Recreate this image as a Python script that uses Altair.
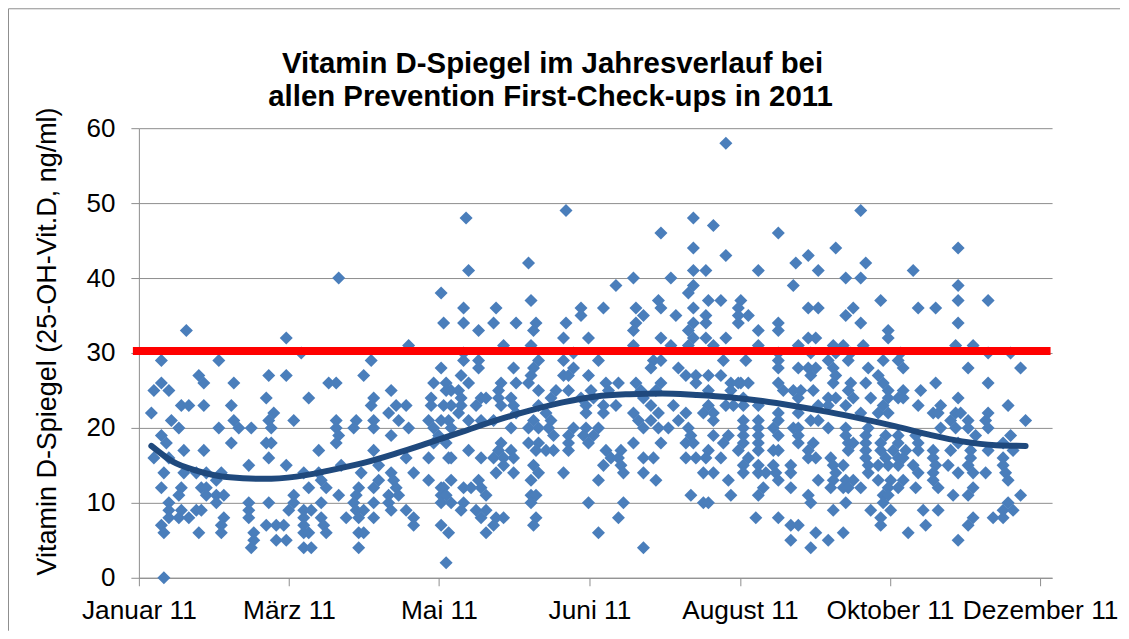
import altair as alt
import pandas as pd

# Vitamin D reading (ng/ml) -> days of the year with a check-up at that reading
d58 = [235]
d49 = [171, 289]
d48 = [131, 222]
d47 = [230]
d46 = [209, 256]
d44 = [222, 279, 328]
d43 = [235, 268]
d42 = [156, 263, 291]
d41 = [132, 222, 227, 248, 272, 310]
d40 = [80, 198, 213, 283, 289]
d39 = [191, 222, 262, 328]
d38 = [121, 220]
d37 = [157, 208, 228, 233, 241, 297, 328, 340]
d36 = [130, 143, 177, 186, 199, 209, 222, 240, 268, 272, 286, 312, 319]
d35 = [177, 202, 215, 227, 240, 244, 283]
d34 = [122, 130, 142, 151, 159, 171, 199, 222, 227, 240, 256, 289, 328]
d33 = [19, 136, 158, 198, 220, 248, 256, 300]
d32 = [59, 170, 180, 209, 222, 227, 235, 268, 271, 300]
d31 = [108, 146, 157, 198, 213, 220, 230, 248, 264, 278, 282, 290, 327, 334]
d30 = [65, 130, 174, 256, 269, 279, 285, 305, 340, 349]
d29 = [9, 32, 93, 130, 136, 160, 170, 184, 206, 209, 234, 243, 256, 276, 284, 298, 304]
d28 = [121, 136, 150, 158, 174, 205, 216, 256, 264, 268, 271, 278, 292, 306, 332, 353]
d27 = [24, 52, 59, 90, 129, 157, 170, 172, 180, 219, 223, 228, 233, 269, 279, 296]
d26 = [9, 26, 38, 76, 79, 118, 123, 132, 145, 151, 156, 187, 192, 199, 209, 223, 237, 240, 241, 244, 256, 278, 285, 291, 298, 319, 340]
d25 = [6, 12, 101, 123, 125, 128, 144, 160, 167, 172, 181, 188, 201, 207, 228, 237, 258, 262, 265, 270, 284, 300, 306, 313]
d24 = [51, 68, 94, 117, 129, 137, 139, 144, 149, 165, 177, 182, 202, 242, 264, 276, 279, 286, 293, 300, 304, 306, 328]
d23 = [17, 20, 26, 37, 93, 103, 107, 117, 122, 125, 129, 135, 145, 150, 160, 179, 186, 191, 205, 214, 228, 235, 238, 242, 248, 272, 276, 283, 298, 312, 321, 348]
d22 = [5, 54, 100, 128, 151, 163, 179, 186, 198, 208, 219, 226, 230, 256, 264, 289, 296, 300, 318, 320, 327, 329, 340]
d21 = [13, 38, 52, 62, 79, 87, 94, 104, 116, 121, 124, 132, 137, 142, 158, 165, 200, 205, 216, 230, 242, 248, 256, 269, 272, 325, 332, 339, 355]
d20 = [16, 32, 40, 45, 53, 79, 86, 94, 108, 118, 125, 149, 156, 160, 164, 174, 179, 184, 202, 208, 212, 220, 242, 248, 254, 262, 264, 276, 283, 292, 321, 327, 332, 340]
d19 = [9, 80, 101, 120, 166, 172, 178, 182, 221, 230, 236, 242, 248, 256, 264, 283, 291, 299, 304, 311, 335, 349]
d18 = [11, 37, 51, 53, 79, 118, 123, 145, 156, 160, 172, 180, 198, 209, 219, 222, 234, 242, 248, 264, 270, 284, 286, 291, 297, 304, 312, 328, 346]
d17 = [18, 26, 72, 94, 132, 144, 149, 159, 163, 166, 172, 187, 193, 228, 240, 248, 254, 256, 268, 284, 291, 297, 302, 307, 312, 318, 325, 333, 340, 350]
d16 = [6, 12, 52, 107, 116, 124, 125, 137, 142, 146, 150, 189, 192, 202, 206, 219, 223, 227, 233, 244, 268, 271, 277, 291, 299, 304, 306, 318, 333, 346]
d15 = [44, 59, 81, 96, 146, 158, 186, 193, 242, 248, 254, 261, 278, 282, 292, 296, 300, 304, 310, 319, 324, 332, 346]
d14 = [10, 18, 23, 27, 33, 66, 72, 89, 101, 110, 143, 150, 160, 170, 194, 202, 226, 230, 242, 248, 251, 255, 261, 279, 292, 312, 318, 328, 334, 339, 347]
d13 = [31, 73, 96, 102, 116, 125, 136, 157, 184, 207, 236, 256, 272, 278, 283, 286, 296, 301, 306, 318, 348]
d12 = [9, 17, 25, 27, 68, 75, 88, 94, 103, 121, 122, 130, 133, 137, 250, 261, 277, 282, 284, 289, 300, 304, 311, 320, 334]
d11 = [16, 27, 31, 34, 62, 80, 87, 100, 104, 121, 123, 139, 157, 159, 221, 237, 248, 268, 298, 300, 326, 332, 353]
d10 = [12, 31, 44, 52, 62, 73, 86, 94, 100, 121, 125, 130, 157, 180, 194, 226, 228, 269, 283, 298, 348]
d9 = [12, 17, 23, 25, 44, 60, 66, 69, 87, 90, 101, 107, 129, 135, 139, 278, 293, 301, 314, 320, 346, 350]
d8 = [12, 16, 20, 34, 44, 66, 73, 83, 88, 94, 110, 137, 143, 146, 159, 192, 247, 256, 297, 334, 342, 346]
d7 = [9, 33, 51, 55, 58, 66, 74, 110, 121, 142, 158, 261, 264, 297, 315, 332]
d6 = [10, 24, 33, 46, 66, 68, 75, 88, 90, 124, 139, 184, 271, 282, 308]
d5 = [46, 55, 59, 261, 276, 328]
d4 = [45, 66, 69, 88, 202, 269]
d2 = [123]
d0 = [10]

trend_days = [5, 13.6, 23, 36.4, 50, 63, 76, 89.6, 103, 116, 129.6, 143, 156.4, 169.6, 183, 196.4, 209.6, 223, 236.4, 249.6, 263, 276.4, 289.6, 303, 316.4, 329.6, 343, 355]
trend_vals = [17.6, 15.5, 14.3, 13.4, 13.2, 13.5, 14.3, 15.3, 16.6, 18.0, 19.5, 21.0, 22.3, 23.4, 24.2, 24.5, 24.6, 24.4, 24.1, 23.6, 22.9, 22.1, 21.2, 20.2, 19.1, 18.2, 17.7, 17.6]

limit_days = [-2.4, 365]
limit_vals = [30.27, 30.27]

tick_days = [0, 60.1, 120.1, 180.4, 240.6, 300.7, 360.8]
tick_labels = ["Januar 11", "März 11", "Mai 11", "Juni 11", "August 11", "Oktober 11", "Dezember 11"]
y_ticks = [0, 10, 20, 30, 40, 50, 60]
title_line_1 = "Vitamin D-Spiegel im Jahresverlauf bei"
title_line_2 = "allen Prevention First-Check-ups in 2011"

levels = {
    58: d58, 49: d49, 48: d48, 47: d47, 46: d46, 44: d44, 43: d43, 42: d42, 41: d41, 40: d40,
    39: d39, 38: d38, 37: d37, 36: d36, 35: d35, 34: d34, 33: d33, 32: d32, 31: d31, 30: d30,
    29: d29, 28: d28, 27: d27, 26: d26, 25: d25, 24: d24, 23: d23, 22: d22, 21: d21, 20: d20,
    19: d19, 18: d18, 17: d17, 16: d16, 15: d15, 14: d14, 13: d13, 12: d12, 11: d11, 10: d10,
    9: d9, 8: d8, 7: d7, 6: d6, 5: d5, 4: d4, 2: d2, 0: d0,
}
points = pd.DataFrame([{"day": d, "val": v} for v, days in levels.items() for d in days])
trend = pd.DataFrame({"day": trend_days, "val": trend_vals})
limit = pd.DataFrame({"day": limit_days, "val": limit_vals})

FONT = "Liberation Sans"
GREY = "#8E8E8E"
label_js = "[" + ",".join(f"'{t}'" for t in tick_labels) + "][round(datum.index*6)]"

x_scale = alt.Scale(domain=[0, 365.6], nice=False, zero=False)
y_scale = alt.Scale(domain=[0, 60], nice=False)
x_axis = alt.Axis(
    values=tick_days, labelExpr=label_js, title=None, grid=False, tickSize=8,
    tickColor=GREY, domainColor=GREY, labelFontSize=26.3, labelFont=FONT, labelColor="#000000",
    labelPadding=12, labelOverlap=False, labelFlush=False,
)
y_axis = alt.Axis(
    values=y_ticks, title="Vitamin D-Spiegel (25-OH-Vit.D, ng/ml)", grid=True, gridColor=GREY,
    gridWidth=1, tickSize=8, tickColor=GREY, domainColor=GREY, labelFontSize=26, labelFont=FONT,
    labelColor="#000000", labelPadding=16, titleFont=FONT, titleFontSize=27, titleFontWeight="normal",
    titleColor="#000000", titleX=-91, titleY=213, titleAngle=270, titleAlign="center",
    titleBaseline="middle",
)

scatter = alt.Chart(points).mark_point(shape="diamond", filled=True, size=170, opacity=1, color="#4A7EBB").encode(
    x=alt.X("day:Q", scale=x_scale, axis=x_axis),
    y=alt.Y("val:Q", scale=y_scale, axis=y_axis),
)
red = alt.Chart(limit).mark_line(color="#FF0000", strokeWidth=8, strokeCap="butt").encode(
    x=alt.X("day:Q", scale=x_scale), y=alt.Y("val:Q", scale=y_scale)
)
curve = alt.Chart(trend).mark_line(color="#1F497D", strokeWidth=6, strokeCap="round", interpolate="monotone").encode(
    x=alt.X("day:Q", scale=x_scale), y=alt.Y("val:Q", scale=y_scale)
)
frame_df = pd.DataFrame({"k": [0]})
frame_top = alt.Chart(frame_df).mark_rule(color=GREY, strokeWidth=1).encode(
    x=alt.value(-130.5), x2=alt.value(982), y=alt.value(-119.5)
)
frame_left = alt.Chart(frame_df).mark_rule(color=GREY, strokeWidth=1).encode(
    x=alt.value(-130.5), y=alt.value(-119.5), y2=alt.value(503)
)
title_a = alt.Chart(pd.DataFrame({"t": [title_line_1]})).mark_text(
    font=FONT, fontSize=29.4, fontWeight="bold", color="#000000", align="center", baseline="alphabetic"
).encode(text="t:N", x=alt.value(414), y=alt.value(-55))
title_b = alt.Chart(pd.DataFrame({"t": [title_line_2]})).mark_text(
    font=FONT, fontSize=29.4, fontWeight="bold", color="#000000", align="center", baseline="alphabetic"
).encode(text="t:N", x=alt.value(412), y=alt.value(-22))

chart = (
    alt.layer(frame_top, frame_left, title_a, title_b, scatter, red, curve)
    .properties(width=914, height=450, padding=0)
    .configure_view(stroke=None)
)
chart.save("out.html", embed_options={"renderer": "svg", "actions": False})
